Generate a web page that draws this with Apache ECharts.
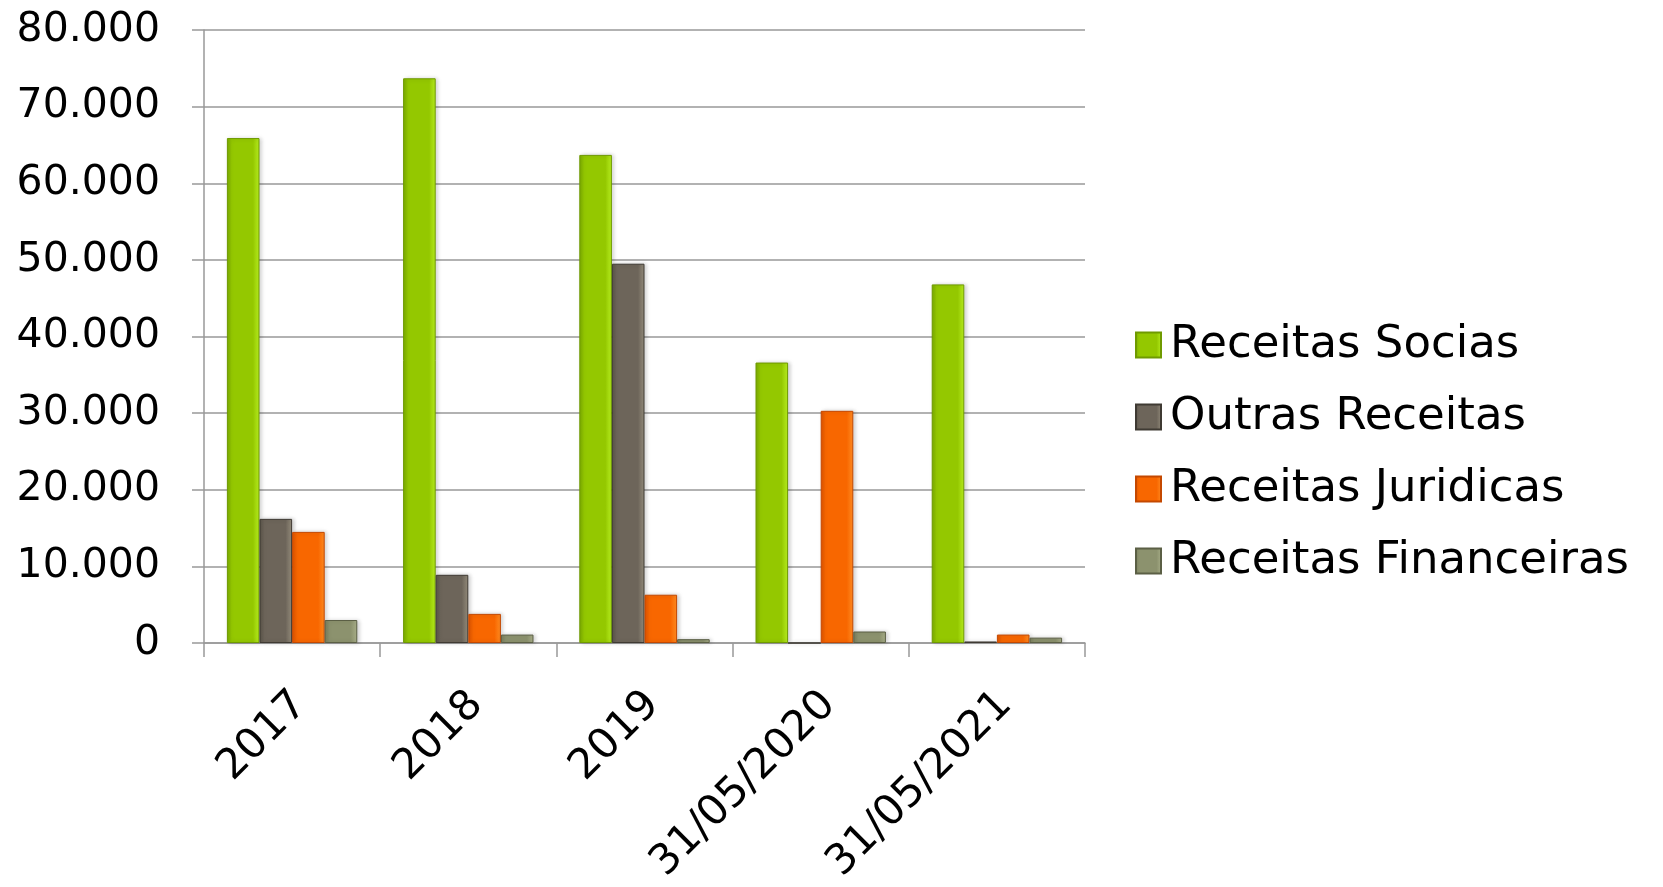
<!DOCTYPE html>
<html>
<head>
<meta charset="utf-8">
<script src="https://cdn.jsdelivr.net/npm/echarts@6/dist/echarts.min.js"></script>
<style>
	html, body { margin: 0; padding: 0; background: #fff; }
	#chart_container { width: 1663px; height: 887px; }
</style>
</head>
<body>
<div id="chart_container"></div>
<script>
const categories = ["2017", "2018", "2019", "31/05/2020", "31/05/2021"]
const receitasSocias = [65900, 73700, 63700, 36600, 46800]
const outrasReceitas = [16200, 8900, 49500, 0, 200]
const receitasJuridicas = [14500, 3800, 6300, 30300, 1100]
const receitasFinanceiras = [3000, 1100, 500, 1500, 700]
const yTicks = [0, 10000, 20000, 30000, 40000, 50000, 60000, 70000, 80000]

const fontFamily = "'DejaVu Sans', sans-serif"

// left-to-right shading to mimic the bevelled bars
function bevel(dark, mid, light) {
	return {
		type: "linear",
		x: 0, y: 0, x2: 1, y2: 0,
		colorStops: [
			{ offset: 0, color: dark },
			{ offset: 0.15, color: mid },
			{ offset: 0.8, color: mid },
			{ offset: 1, color: light },
		],
	}
}

function formatThousands(v) {
	return String(v).replace(/\B(?=(\d{3})+(?!\d))/g, ".")
}

const seriesDefs = [
	{ name: "Receitas Socias", data: receitasSocias, color: bevel("#7aaa00", "#94c800", "#b8ee20"), border: "#6f9a00" },
	{ name: "Outras Receitas", data: outrasReceitas, color: bevel("#5a5449", "#6d655a", "#958d7c"), border: "#3f3a33" },
	{ name: "Receitas Juridicas", data: receitasJuridicas, color: bevel("#de5200", "#f86700", "#ff8c22"), border: "#c44800" },
	{ name: "Receitas Financeiras", data: receitasFinanceiras, color: bevel("#787d5c", "#8c926e", "#aab08a"), border: "#5b5f45" },
]

const chart = echarts.init(document.getElementById("chart_container"))
chart.setOption({
	animation: false,
	grid: { left: 204, right: 578, top: 30, bottom: 244 },
	legend: {
		orient: "vertical",
		left: 1130,
		top: 315,
		itemWidth: 25,
		itemHeight: 25,
		itemGap: 22,
		icon: "rect",
		textStyle: { fontFamily, fontSize: 45, color: "#000", lineHeight: 50, padding: [0, 0, 0, 4] },
		data: seriesDefs.map(s => s.name),
	},
	xAxis: {
		type: "category",
		data: categories,
		axisLine: { show: true, lineStyle: { color: "#999", width: 1.5 } },
		axisTick: { show: true, length: 14, lineStyle: { color: "#999", width: 1.5 } },
		axisLabel: { rotate: 45, margin: 64, padding: [0, -12, 0, 0], fontFamily, fontSize: 42, color: "#000" },
	},
	yAxis: {
		type: "value",
		min: yTicks[0],
		max: yTicks[yTicks.length - 1],
		interval: yTicks[1] - yTicks[0],
		axisLine: { show: true, lineStyle: { color: "#999", width: 1.5 } },
		axisTick: { show: true, length: 12, lineStyle: { color: "#999", width: 1.5 } },
		splitLine: { show: true, lineStyle: { color: "#999", width: 1.5 } },
		axisLabel: { margin: 44, fontFamily, fontSize: 41, color: "#000", formatter: formatThousands },
	},
	series: seriesDefs.map(s => ({
		name: s.name,
		type: "bar",
		data: s.data,
		barGap: "0%",
		barCategoryGap: "26%",
		itemStyle: {
			color: s.color,
			borderColor: s.border,
			borderWidth: 1,
			shadowColor: "rgba(0,0,0,0.18)",
			shadowBlur: 4,
			shadowOffsetX: 2,
		},
	})),
})
</script>
</body>
</html>
